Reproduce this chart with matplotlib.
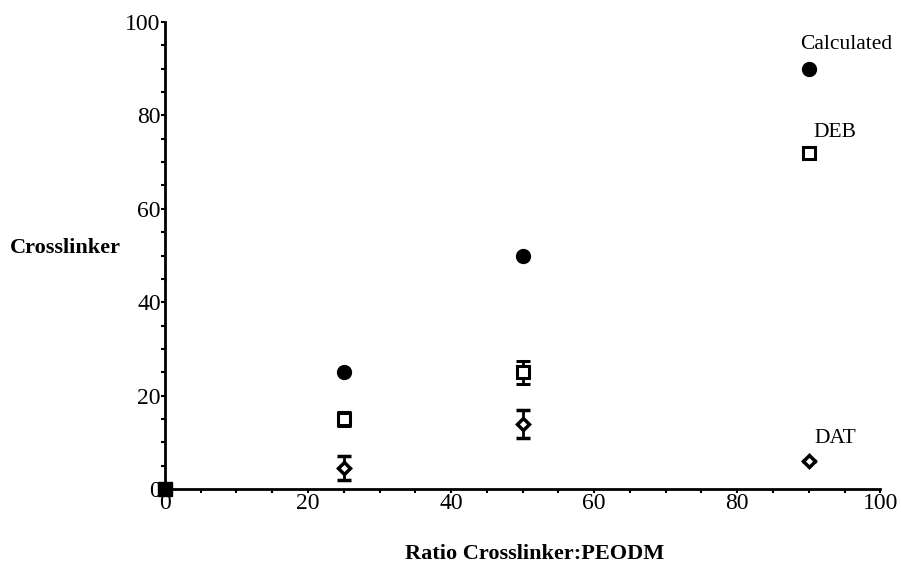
import matplotlib
matplotlib.use("Agg")
import matplotlib.pyplot as plt
from matplotlib.ticker import MultipleLocator

# data
ratio = [0, 25, 50, 90]
calculated = [0, 25, 50, 90]
deb = [0, 15, 25, 72]
deb_err = [0, 1.5, 2.5, 0]
dat = [0, 4.5, 14, 6]
dat_err = [0, 2.5, 3, 0]

series_labels = ["Calculated", "DEB", "DAT"]
label_pos = [(88.8, 93.2), (90.6, 74.3), (90.8, 8.7)]

plt.rcParams['font.family'] = ['Liberation Serif', 'DejaVu Serif']

fig = plt.figure(figsize=(9.01, 5.69), dpi=100)
ax = fig.add_axes([0.183, 0.1406, 0.794, 0.8207])

ax.plot(ratio[1:], calculated[1:], 'o', color='black', markersize=10, zorder=5)
ax.errorbar(ratio[1:], deb[1:], yerr=deb_err[1:], fmt='s', color='black',
            mfc='white', mec='black', mew=2.2, markersize=8,
            ecolor='black', elinewidth=2, capsize=5, capthick=2, zorder=4)
ax.errorbar(ratio[1:], dat[1:], yerr=dat_err[1:], fmt='D', color='black',
            mfc='white', mec='black', mew=2.5, markersize=6,
            ecolor='black', elinewidth=2, capsize=5, capthick=2, zorder=4)

# all three series coincide at the origin
ax.plot([ratio[0]], [calculated[0]], 's', color='black', markersize=10,
        clip_on=False, zorder=6)

for lab, (x, y) in zip(series_labels, label_pos):
    ax.text(x, y, lab, fontsize=15.5, ha='left', va='bottom')

ax.set_xlim(0, 100)
ax.set_ylim(0, 100)
ax.xaxis.set_major_locator(MultipleLocator(20))
ax.xaxis.set_minor_locator(MultipleLocator(5))
ax.yaxis.set_major_locator(MultipleLocator(20))
ax.yaxis.set_minor_locator(MultipleLocator(5))

for s in ['top', 'right']:
    ax.spines[s].set_visible(False)
for s in ['left', 'bottom']:
    ax.spines[s].set_linewidth(2)

ax.tick_params(which='major', direction='out', length=3, width=1.5,
               labelsize=17, pad=0)
ax.tick_params(which='minor', direction='out', length=3, width=1.5)

fig.text(0.011, 0.564, "Crosslinker", fontsize=16, fontweight='bold',
         ha='left', va='center')
fig.text(0.593, 0.027, "Ratio Crosslinker:PEODM", fontsize=16,
         fontweight='bold', ha='center', va='center')

fig.savefig("out.png", dpi=100)
